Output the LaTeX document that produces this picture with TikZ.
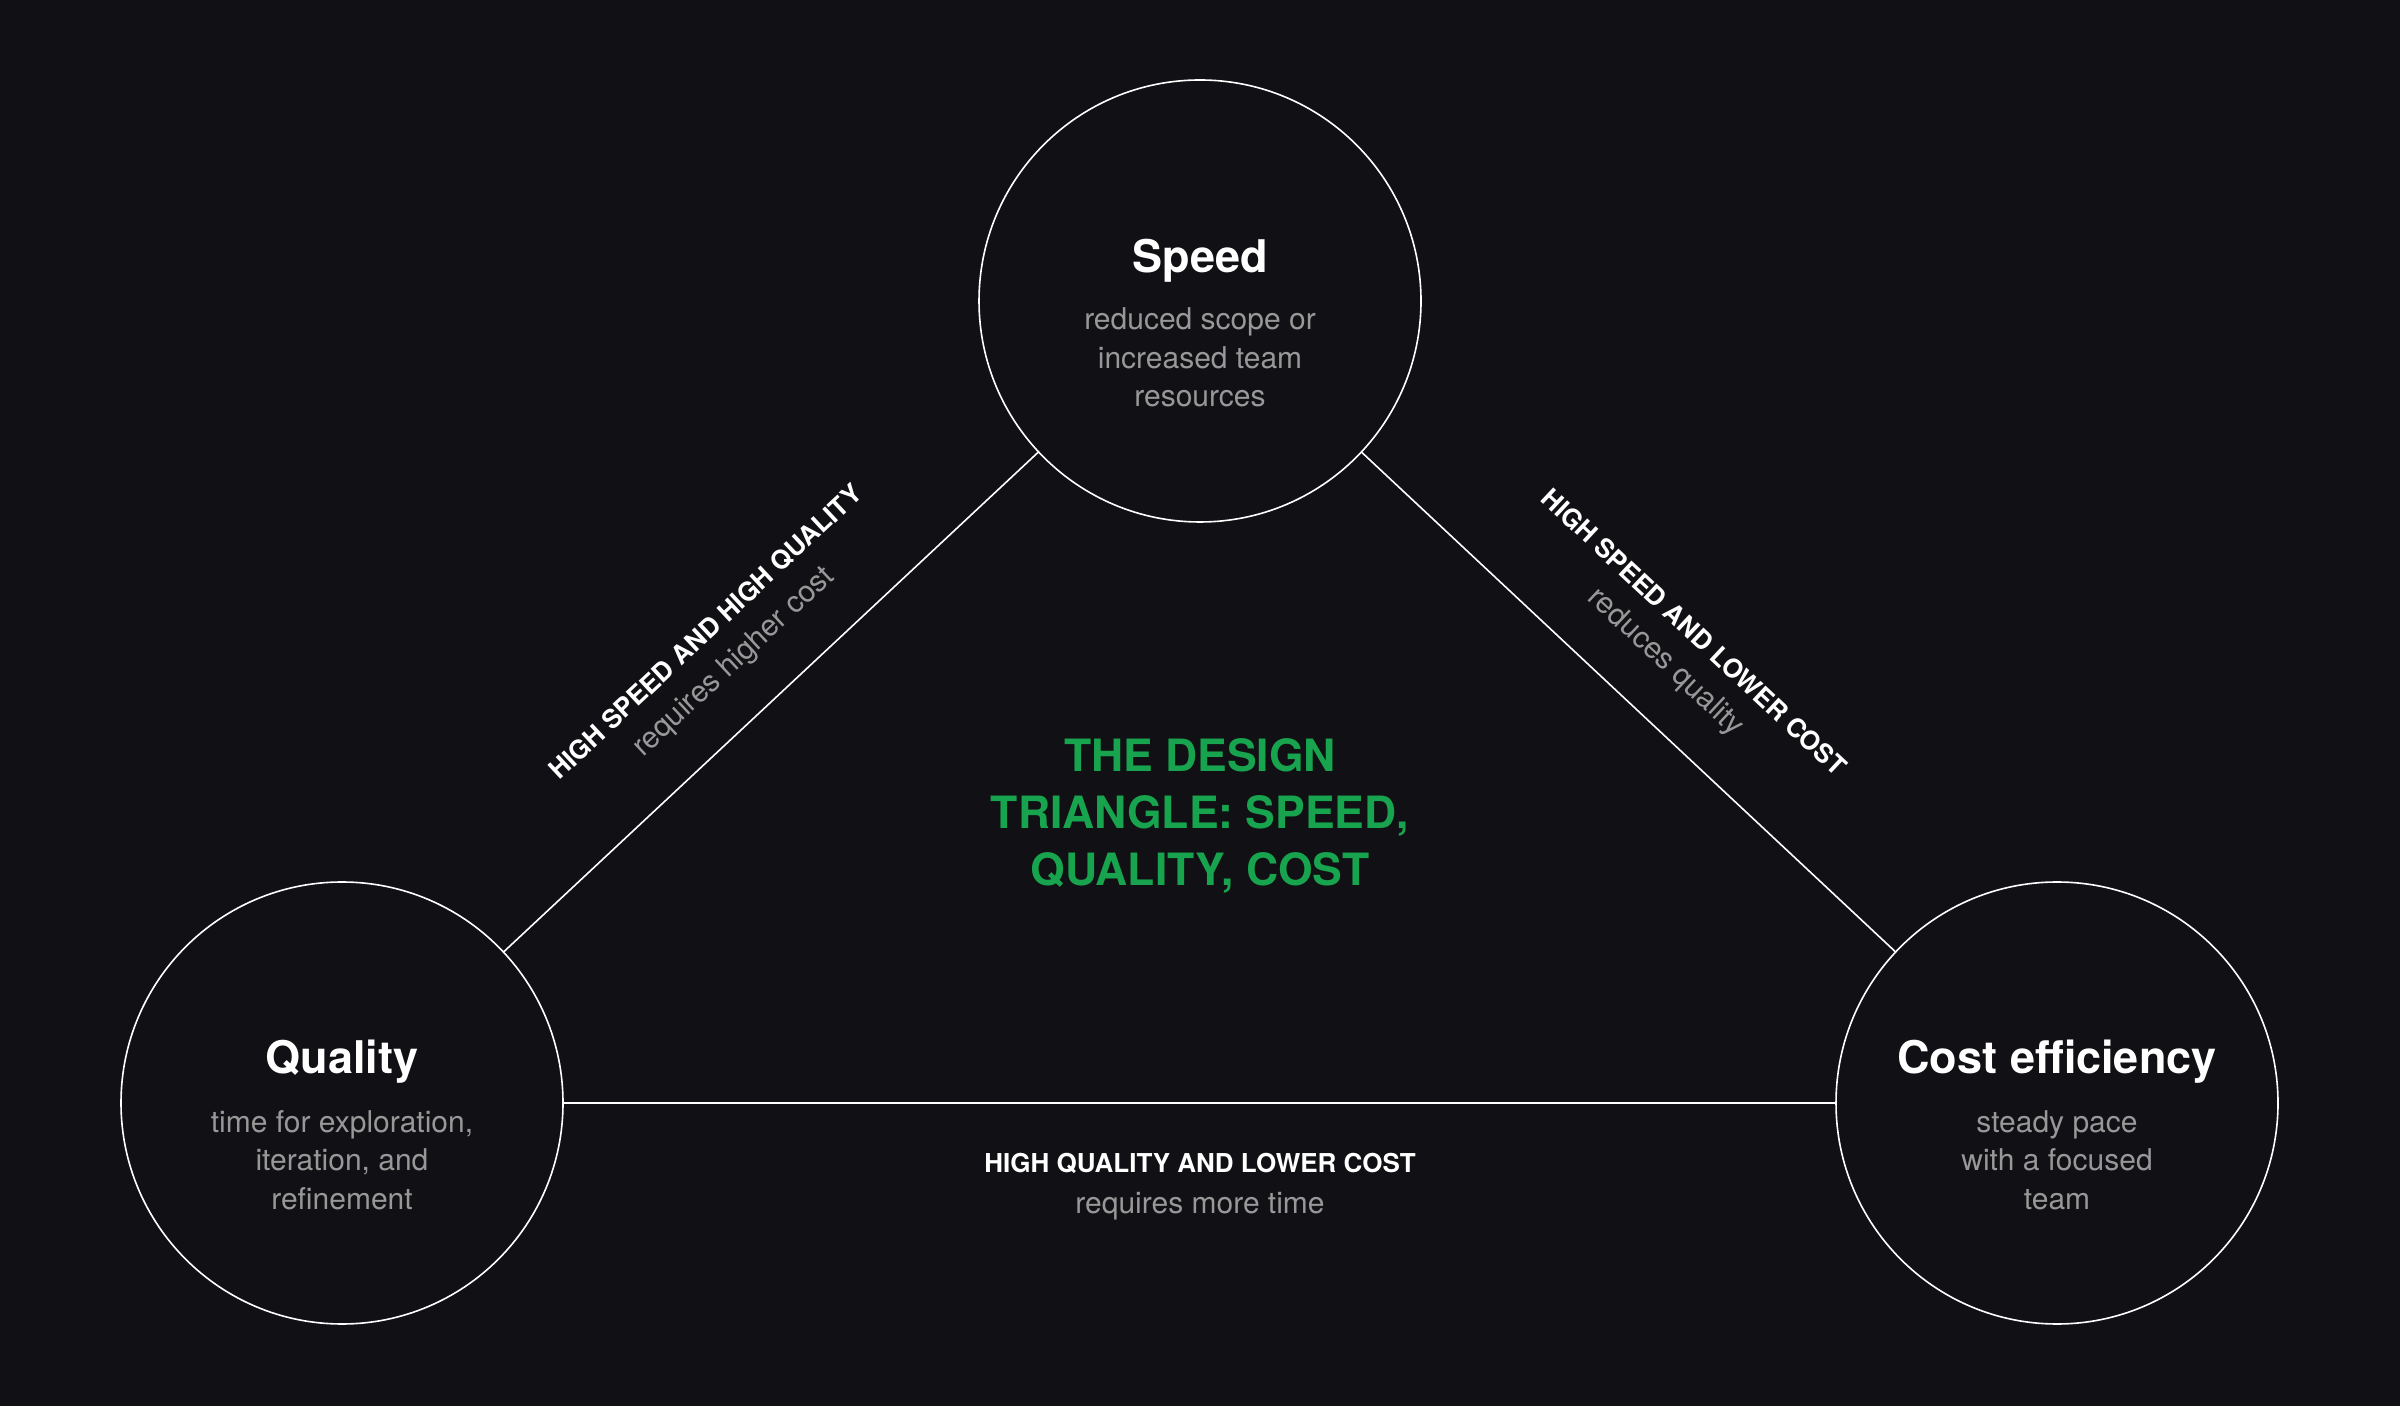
\documentclass[tikz,border=0pt]{standalone}
\usepackage{fontspec}
\setmainfont{TeX Gyre Heros}
\usetikzlibrary{calc}
\definecolor{bg}{RGB}{17,16,20}
\definecolor{desc}{RGB}{152,152,152}
\definecolor{grn}{RGB}{24,163,78}
\begin{document}
\begin{tikzpicture}[x=1pt,y=1pt,
  circ/.style={circle, draw=white, line width=1.6pt, minimum size=442pt, inner sep=0pt},
  ttl/.style={text=white, font=\fontsize{45}{50}\selectfont\bfseries, anchor=base, inner sep=0pt},
  dsc/.style={text=desc, font=\fontsize{30}{38.5}\selectfont, align=center, anchor=base, inner sep=0pt},
  conn/.style={draw=white, line width=1.6pt},
  lblb/.style={text=white, font=\fontsize{26}{30}\selectfont\bfseries, inner sep=0pt},
  lblg/.style={text=desc, font=\fontsize{30}{34}\selectfont, inner sep=0pt},
  headline/.style={text=grn, font=\fontsize{44.5}{57}\selectfont\bfseries, align=center, anchor=base, inner sep=0pt}
]
\fill[bg] (0,0) rectangle (2400,1406);
\useasboundingbox (0,0) rectangle (2400,1406);

\node[circ] (S) at (1200,1105) {};
\node[circ] (Q) at (342,303) {};
\node[circ] (C) at (2057,303) {};

\node[ttl] (St) at ($(S.center)+(0,28)$) {Speed};
\node[dsc] (Sd) at ($(S.center)+(0,-106)$) {reduced scope or\\increased team\\resources};
\node[ttl] (Qt) at ($(Q.center)+(0,30)$) {Quality};
\node[dsc] (Qd) at ($(Q.center)+(0,-106)$) {time for exploration,\\iteration, and\\refinement};
\node[ttl] (Ct) at ($(C.center)+(0,30)$) {Cost efficiency};
\node[dsc] (Cd) at ($(C.center)+(0,-106)$) {steady pace\\with a focused\\team};

\draw[conn] (S) -- (Q);
\draw[conn] (S) -- (C);
\draw[conn] (Q) -- (C);

\coordinate (M1) at ($(Q)!0.5!(S)$);
\coordinate (M2) at ($(S)!0.5!(C)$);
\node[lblb, rotate=43.07] (L1b) at ($(M1)!96pt!90:(S)$) {HIGH SPEED AND HIGH QUALITY};
\node[lblg, rotate=43.07] (L1g) at ($(M1)!54pt!90:(S)$) {requires higher cost};
\node[lblb, rotate=-43.07] (L2b) at ($(M2)!96pt!90:(C)$) {HIGH SPEED AND LOWER COST};
\node[lblg, rotate=-43.07] (L2g) at ($(M2)!54pt!90:(C)$) {reduces quality};

\node[lblb, anchor=base] (L3b) at (1200,234) {HIGH QUALITY AND LOWER COST};
\node[lblg, anchor=base] (L3g) at (1200,193) {requires more time};

\node[headline] (H) at (1200,520) {THE DESIGN\\TRIANGLE: SPEED,\\QUALITY, COST};
\end{tikzpicture}
\end{document}
